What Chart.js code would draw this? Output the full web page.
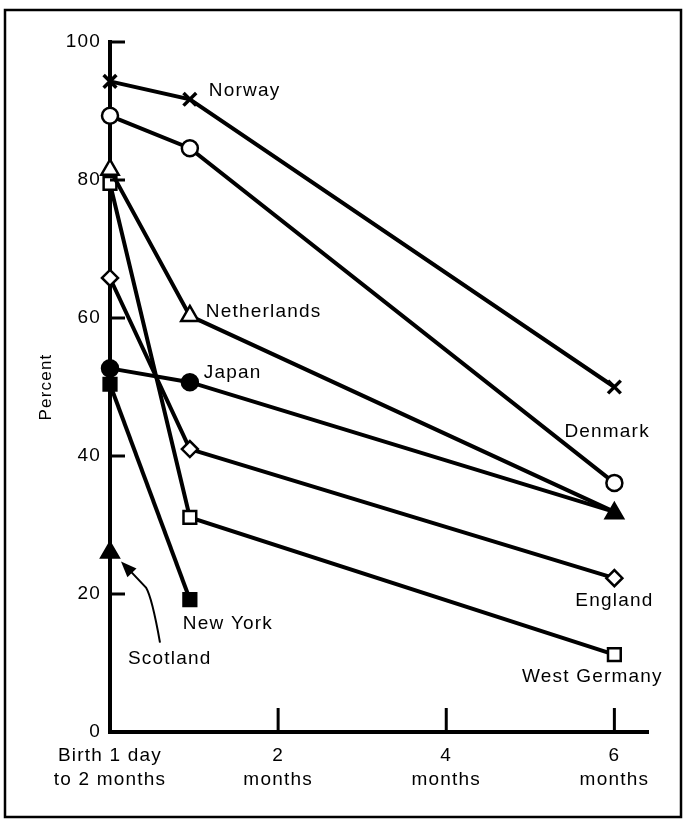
<!DOCTYPE html>
<html>
<head>
<meta charset="utf-8">
<script src="https://cdn.jsdelivr.net/npm/chart.js@4"></script>
<style>
  body { margin: 0; background: #fff; }
  canvas { display: block; }
</style>
</head>
<body>
<canvas id="chart" width="684" height="822"></canvas>
<script>
// --- Data ---
// ages (months) where the surveys were taken: birth, ~1 month, 6 months
const ageMonths = [0, 0.95, 6];

const norway      = [94.3, 91.7, 50.0];
const denmark     = [89.3, 84.6, 36.1];
const netherlands = [81.5, 60.3, 31.9];
const westGermany = [79.5, 31.1, 11.2];
const england     = [65.8, 41.0, 22.3];
const japan       = [52.7, 50.7, 31.9];
const newYork     = [50.4, 19.2, null];
const scotland    = [26.0, null, 31.7];

const xTickValues = [0, 2, 4, 6];
const xTickLabels = [['Birth 1 day', 'to 2 months'], ['2', 'months'], ['4', 'months'], ['6', 'months']];
const yTickValues = [0, 20, 40, 60, 80, 100];

// build {x, y} points, skipping gaps
function toPoints(values) {
    const pts = [];
    values.forEach((v, i) => {
        if (v !== null) pts.push({ x: ageMonths[i], y: v });
    });
    return pts;
}

function series(label, values, style, filled, radius, showLine) {
    return {
        label: label,
        data: toPoints(values),
        borderColor: '#000',
        borderWidth: 4,
        pointStyle: style,
        pointRadius: radius,
        pointBorderWidth: style === 'crossRot' ? 3.5 : 2.5,
        pointBorderColor: '#000',
        pointBackgroundColor: filled ? '#000' : '#fff',
        showLine: showLine,
        clip: false
    };
}

// dataset 0 is painted on top; the Scotland triangle hides the
// Japan and Netherlands markers where the three meet at 6 months
const datasets = [
    series('Scotland', scotland, 'triangle', true, 10, false),
    series('Norway', norway, 'crossRot', false, 9, true),
    series('Denmark', denmark, 'circle', false, 8, true),
    series('Netherlands', netherlands, 'triangle', false, [10, 10, 0], true),
    series('Japan', japan, 'circle', true, [8, 8, 0], true),
    series('England', england, 'rectRot', false, 8, true),
    series('New York', newYork, 'rect', true, 9, true),
    series('West Germany', westGermany, 'rect', false, 9, true)
];

const labelFont = '19px "Liberation Sans", Arial, sans-serif';

// where each country's name sits, relative to one of its points
const nameSpots = {
    'Norway':       { i: 1, dx: 19, dy: -9, align: 'left' },
    'Netherlands':  { i: 1, dx: 16, dy: -4, align: 'left' },
    'Japan':        { i: 1, dx: 14, dy: -9, align: 'left' },
    'Denmark':      { i: 2, dx: -50, dy: -51, align: 'left' },
    'England':      { i: 2, dx: 0, dy: 23, align: 'center' },
    'West Germany': { i: 2, dx: -22, dy: 22, align: 'center' },
    'New York':     { i: 1, dx: -7, dy: 24, align: 'left' },
    'Scotland':     { i: 0, dx: 18, dy: 106, align: 'left' }
};

const decorations = {
    id: 'decorations',
    beforeDraw(chart) {
        const ctx = chart.ctx;
        ctx.letterSpacing = '1.2px';
        ctx.save();
        ctx.strokeStyle = '#000';
        ctx.lineWidth = 2.5;
        ctx.strokeRect(5, 10, 676, 807);
        ctx.restore();
    },
    afterDraw(chart) {
        const ctx = chart.ctx;
        const xs = chart.scales.x;
        const ys = chart.scales.y;
        const area = chart.chartArea;

        ctx.save();
        ctx.strokeStyle = '#000';
        ctx.lineWidth = 3;
        // inward ticks on the y axis
        yTickValues.forEach(v => {
            if (v === 0) return;
            const py = ys.getPixelForValue(v);
            ctx.beginPath();
            ctx.moveTo(area.left, py);
            ctx.lineTo(area.left + 15, py);
            ctx.stroke();
        });
        // upward ticks on the x axis
        xTickValues.forEach(v => {
            if (v === 0) return;
            const px = xs.getPixelForValue(v);
            ctx.beginPath();
            ctx.moveTo(px, area.bottom);
            ctx.lineTo(px, area.bottom - 24);
            ctx.stroke();
        });

        // country names
        ctx.font = labelFont;
        ctx.fillStyle = '#000';
        ctx.textBaseline = 'middle';
        chart.data.datasets.forEach((ds, d) => {
            const spot = nameSpots[ds.label];
            if (!spot) return;
            const meta = chart.getDatasetMeta(d);
            const idx = ds.data.findIndex(p => p.x === ageMonths[spot.i]);
            const el = meta.data[idx];
            ctx.textAlign = spot.align;
            ctx.fillText(ds.label, el.x + spot.dx, el.y + spot.dy);
        });

        // curved arrow from the "Scotland" label to its birth point
        const sp = chart.getDatasetMeta(0).data[0];
        const tipX = sp.x + 11, tipY = sp.y + 9;
        ctx.lineWidth = 2;
        ctx.beginPath();
        ctx.moveTo(sp.x + 50, sp.y + 90);
        ctx.quadraticCurveTo(sp.x + 42, sp.y + 45, sp.x + 36, sp.y + 35);
        ctx.lineTo(tipX + 8, tipY + 8);
        ctx.stroke();
        const ang = Math.atan2(tipY - (sp.y + 35), tipX - (sp.x + 36));
        ctx.beginPath();
        ctx.moveTo(tipX, tipY);
        ctx.lineTo(tipX - 17 * Math.cos(ang - 0.38), tipY - 17 * Math.sin(ang - 0.38));
        ctx.lineTo(tipX - 17 * Math.cos(ang + 0.38), tipY - 17 * Math.sin(ang + 0.38));
        ctx.closePath();
        ctx.fill();
        ctx.restore();
    }
};

new Chart(document.getElementById('chart'), {
    type: 'line',
    data: { datasets: datasets },
    options: {
        responsive: false,
        animation: false,
        layout: { padding: { top: 42, right: 36, bottom: 10, left: 10 } },
        plugins: {
            legend: { display: false },
            tooltip: { enabled: false }
        },
        elements: { line: { tension: 0 } },
        scales: {
            x: {
                type: 'linear',
                min: 0,
                max: 6.4,
                afterBuildTicks: scale => {
                    scale.ticks = xTickValues.map(v => ({ value: v }));
                },
                afterFit: scale => { scale.height = 80; },
                grid: { display: false, drawTicks: false },
                border: { display: true, width: 4, color: '#000' },
                ticks: {
                    padding: 12,
                    color: '#000',
                    maxRotation: 0,
                    autoSkip: false,
                    font: { family: '"Liberation Sans", Arial, sans-serif', size: 19, lineHeight: 1.25 },
                    callback: (value) => xTickLabels[xTickValues.indexOf(value)]
                }
            },
            y: {
                min: 0,
                max: 100,
                afterBuildTicks: scale => {
                    scale.ticks = yTickValues.map(v => ({ value: v }));
                },
                afterFit: scale => { scale.width = 100; },
                grid: { display: false, drawTicks: false },
                border: { display: true, width: 4, color: '#000' },
                title: {
                    display: true,
                    text: 'Percent',
                    color: '#000',
                    align: 'center',
                    padding: { top: 26, bottom: 0 },
                    font: { family: '"Liberation Sans", Arial, sans-serif', size: 17 }
                },
                ticks: {
                    padding: 9,
                    color: '#000',
                    font: { family: '"Liberation Sans", Arial, sans-serif', size: 19 }
                }
            }
        }
    },
    plugins: [decorations]
});
</script>
</body>
</html>
